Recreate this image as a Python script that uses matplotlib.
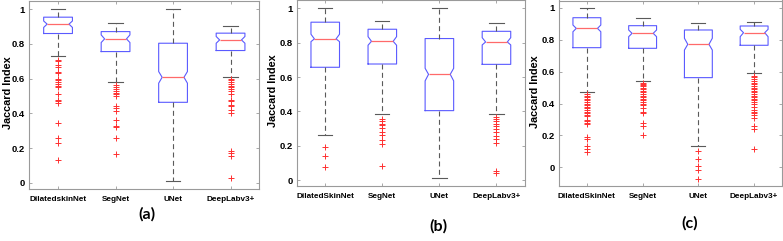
import matplotlib
matplotlib.use("Agg")
import matplotlib.pyplot as plt

models = ["DilatedskinNet", "SegNet", "UNet", "DeepLabv3+"]
models_bc = ["DilatedSkinNet", "SegNet", "UNet", "DeepLabv3+"]
panel_titles = ["(a)", "(b)", "(c)"]
yticks = [0, 0.2, 0.4, 0.6, 0.8, 1.0]
ytick_labels = ["0", "0.2", "0.4", "0.6", "0.8", "1"]

# Panel (a)
a_low = [0.733, 0.583, 0.013, 0.612]
a_q1 = [0.860, 0.756, 0.464, 0.762]
a_med = [0.914, 0.829, 0.608, 0.823]
a_q3 = [0.954, 0.871, 0.804, 0.862]
a_high = [1.000, 0.923, 1.000, 0.906]
a_cilo = [0.895, 0.808, 0.574, 0.804]
a_cihi = [0.932, 0.852, 0.641, 0.843]
a_fliers = [
    [0.71, 0.70, 0.68, 0.67, 0.64, 0.63, 0.60, 0.59, 0.58, 0.57, 0.56, 0.55,
     0.51, 0.48, 0.47, 0.46, 0.345, 0.26, 0.23, 0.13],
    [0.565, 0.55, 0.54, 0.53, 0.52, 0.51, 0.50, 0.445, 0.43, 0.415, 0.36,
     0.33, 0.32, 0.26, 0.165],
    [],
    [0.60, 0.59, 0.58, 0.57, 0.56, 0.55, 0.54, 0.53, 0.51, 0.48, 0.47, 0.45,
     0.44, 0.42, 0.40, 0.185, 0.175, 0.157, 0.03],
]

# Panel (b)
b_low = [0.264, 0.384, 0.012, 0.384]
b_q1 = [0.657, 0.676, 0.405, 0.674]
b_med = [0.822, 0.808, 0.616, 0.804]
b_q3 = [0.919, 0.878, 0.824, 0.866]
b_high = [1.000, 0.928, 1.000, 0.913]
b_cilo = [0.806, 0.785, 0.578, 0.787]
b_cihi = [0.849, 0.835, 0.651, 0.829]
b_fliers = [
    [0.192, 0.140, 0.076],
    [0.355, 0.345, 0.330, 0.322, 0.306, 0.283, 0.264, 0.234, 0.211, 0.083],
    [],
    [0.366, 0.355, 0.342, 0.328, 0.313, 0.298, 0.279, 0.260, 0.240, 0.219,
     0.052, 0.043],
]

# Panel (c)
c_low = [0.471, 0.542, 0.134, 0.590]
c_q1 = [0.751, 0.747, 0.563, 0.766]
c_med = [0.872, 0.841, 0.772, 0.845]
c_q3 = [0.939, 0.889, 0.862, 0.887]
c_high = [0.998, 0.935, 0.904, 0.910]
c_cilo = [0.851, 0.820, 0.736, 0.820]
c_cihi = [0.893, 0.862, 0.810, 0.866]
c_fliers = [
    [0.46, 0.45, 0.44, 0.43, 0.42, 0.41, 0.40, 0.39, 0.38, 0.37, 0.36, 0.35,
     0.34, 0.33, 0.32, 0.30, 0.29, 0.28, 0.27, 0.19, 0.175, 0.135, 0.115,
     0.095],
    [0.53, 0.52, 0.515, 0.51, 0.50, 0.49, 0.48, 0.47, 0.46, 0.45, 0.44, 0.43,
     0.42, 0.41, 0.40, 0.39, 0.37, 0.35, 0.34, 0.28, 0.26, 0.20],
    [0.10, 0.05, 0.01, -0.015, -0.07],
    [0.575, 0.565, 0.555, 0.545, 0.53, 0.52, 0.51, 0.50, 0.49, 0.48, 0.47,
     0.46, 0.45, 0.44, 0.43, 0.42, 0.41, 0.40, 0.38, 0.36, 0.35, 0.34, 0.33,
     0.31, 0.26, 0.24, 0.115],
]

panels = [
    (models, a_low, a_q1, a_med, a_q3, a_high, a_cilo, a_cihi, a_fliers),
    (models_bc, b_low, b_q1, b_med, b_q3, b_high, b_cilo, b_cihi, b_fliers),
    (models_bc, c_low, c_q1, c_med, c_q3, c_high, c_cilo, c_cihi, c_fliers),
]

W, H = 783, 241
fig = plt.figure(figsize=(W / 100, H / 100), dpi=100)

# axes boxes in pixels: left, right, top, bottom
boxes_px = [(29.3, 259.3, 0.5, 189), (296.7, 525, 0.0, 186), (559, 782, 0.5, 186)]
ylims = [(-0.035, 1.05), (-0.033, 1.048), (-0.117, 1.047)]
ylabel_x = [8, 273, 535]
title_pos = [(147, 214), (438, 226), (690, 223)]

ytick_font = dict(family=["Liberation Sans", "DejaVu Sans"], weight="bold", size=6.8)
xtick_font = dict(family=["Liberation Sans", "DejaVu Sans"], weight="bold", size=5.9)
frame_col = "#9a9a9a"
widths = 0.5
notch_frac = 0.38

for i, (names, lo, q1, med, q3, hi, cl, ch, fl) in enumerate(panels):
    l, r, t, b = boxes_px[i]
    ax = fig.add_axes([l / W, 1 - b / H, (r - l) / W, (b - t) / H])
    stats = []
    for k in range(len(names)):
        stats.append(dict(med=med[k], q1=q1[k], q3=q3[k], whislo=lo[k],
                          whishi=hi[k], cilo=cl[k], cihi=ch[k], fliers=fl[k]))
    pos = list(range(1, len(names) + 1))
    res = ax.bxp(stats, positions=pos, widths=widths, shownotches=True,
                 boxprops=dict(color="#5a5aff", linewidth=0.8),
                 medianprops=dict(color="#ff6a6a", linewidth=0.9),
                 whiskerprops=dict(color="#5a5a5a", linewidth=0.8,
                                   linestyle=(0, (4.5, 3))),
                 capprops=dict(color="#5a5a5a", linewidth=0.8),
                 flierprops=dict(marker="+", markeredgecolor="#ff3030",
                                 markersize=4.5, markeredgewidth=0.7,
                                 linestyle="none"))
    # widen the notch waist to MATLAB-like proportions
    for k, ln in enumerate(res["boxes"]):
        p = pos[k]
        xs = list(ln.get_xdata())
        xs[3] = p + widths * notch_frac
        xs[8] = p - widths * notch_frac
        ln.set_xdata(xs)
    for k, ln in enumerate(res["medians"]):
        p = pos[k]
        ln.set_xdata([p - widths * notch_frac, p + widths * notch_frac])

    ax.set_xlim(0.5, len(names) + 0.5)
    ax.set_ylim(*ylims[i])
    ax.set_yticks(yticks)
    ax.set_yticklabels(ytick_labels, **ytick_font)
    ax.set_xticks(pos)
    ax.set_xticklabels(names, **xtick_font)
    ax.tick_params(axis="both", direction="in", length=2.5, width=0.6,
                   color=frame_col, top=True, right=True, pad=3)
    ax.tick_params(axis="x", pad=5)
    for s in ax.spines.values():
        s.set_color(frame_col)
        s.set_linewidth(0.8)
    fig.text(ylabel_x[i] / W, 1 - ((t + b) / 2 - 2) / H, "Jaccard Index",
             rotation=90, ha="center", va="center",
             family=["Liberation Sans", "DejaVu Sans"], weight="bold", size=7.8)
    tx, ty = title_pos[i]
    fig.text(tx / W, 1 - ty / H, panel_titles[i], ha="center", va="center",
             family=["Lato", "DejaVu Sans"], weight="bold", size=11.5)

fig.savefig("out.png", dpi=100)
